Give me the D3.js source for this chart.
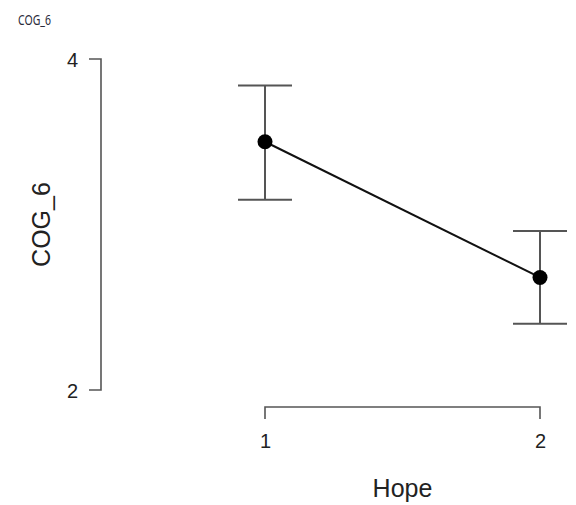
<!DOCTYPE html>
<html>
<head>
<meta charset="utf-8">
<script src="https://cdn.jsdelivr.net/npm/d3@7"></script>
<style>
  body { margin: 0; background: #fff; }
  svg { display: block; }
</style>
</head>
<body>
<svg id="drawing_region"></svg>
<script>
// data
const groups = [1, 2];
const means = [3.50, 2.68];
const upper = [3.84, 2.96];
const lower = [3.15, 2.40];
const yTicks = [2, 4];
const xTitle = "Hope";
const yTitle = "COG_6";
const topTitle = "COG_6";

const width = 576, height = 505;

const svg = d3.select('#drawing_region')
    .attr('width', width)
    .attr('height', height);

const x = d3.scaleLinear().domain([1, 2]).range([265, 540]);
const y = d3.scaleLinear().domain([2, 4]).range([390, 59]);

const data = groups.map((g, i) => ({g: g, m: means[i], hi: upper[i], lo: lower[i]}));

const font = 'Liberation Sans, Arial, sans-serif';

// small title at top left
svg.append('text')
    .attr('x', 18)
    .attr('y', 25)
    .attr('font-family', 'Noto Sans, Open Sans, sans-serif')
    .attr('font-size', 14)
    .attr('textLength', 33)
    .attr('lengthAdjust', 'spacingAndGlyphs')
    .attr('fill', '#2a2a3a')
    .text(topTitle);

// y axis
const yAxis = svg.append('g')
    .attr('transform', 'translate(101,0)')
    .call(d3.axisLeft(y).tickValues(yTicks).tickFormat(d3.format('d')));
yAxis.select('.domain').attr('stroke', '#555').attr('stroke-width', 1.6)
    .attr('d', `M-12,${y(4)}H0V${y(2)}H-12`);
yAxis.selectAll('.tick line').remove();
yAxis.selectAll('.tick text')
    .attr('font-family', font)
    .attr('font-size', 20)
    .attr('fill', '#222')
    .attr('dy', '0.35em')
    .attr('x', -23);

// x axis
const xAxis = svg.append('g')
    .attr('transform', 'translate(0,407)')
    .call(d3.axisBottom(x).tickValues(groups).tickFormat(d3.format('d')));
xAxis.select('.domain').attr('stroke', '#555').attr('stroke-width', 1.6)
    .attr('d', `M${x(1)},12V0H${x(2)}V12`);
xAxis.selectAll('.tick line').remove();
xAxis.selectAll('.tick text')
    .attr('font-family', font)
    .attr('font-size', 20)
    .attr('fill', '#222')
    .attr('y', 27)
    .attr('dy', '0.71em');

// axis titles
svg.append('text')
    .attr('x', (x(1) + x(2)) / 2)
    .attr('y', 497)
    .attr('text-anchor', 'middle')
    .attr('font-family', font)
    .attr('font-size', 25)
    .attr('fill', '#222')
    .text(xTitle);

svg.append('text')
    .attr('transform', `translate(50,${(y(4) + y(2)) / 2}) rotate(-90)`)
    .attr('text-anchor', 'middle')
    .attr('font-family', font)
    .attr('font-size', 25)
    .attr('fill', '#222')
    .text(yTitle);

// error bars
const bars = svg.append('g');
bars.selectAll('line.stem')
    .data(data).enter()
    .append('line')
    .attr('x1', d => x(d.g)).attr('x2', d => x(d.g))
    .attr('y1', d => y(d.hi)).attr('y2', d => y(d.lo))
    .attr('stroke', '#555').attr('stroke-width', 2);
bars.selectAll('line.capHi')
    .data(data).enter()
    .append('line')
    .attr('x1', d => x(d.g) - 27).attr('x2', d => x(d.g) + 27)
    .attr('y1', d => y(d.hi)).attr('y2', d => y(d.hi))
    .attr('stroke', '#555').attr('stroke-width', 2);
bars.selectAll('line.capLo')
    .data(data).enter()
    .append('line')
    .attr('x1', d => x(d.g) - 27).attr('x2', d => x(d.g) + 27)
    .attr('y1', d => y(d.lo)).attr('y2', d => y(d.lo))
    .attr('stroke', '#555').attr('stroke-width', 2);

// connecting line
svg.append('path')
    .datum(data)
    .attr('fill', 'none')
    .attr('stroke', '#111')
    .attr('stroke-width', 2)
    .attr('d', d3.line().x(d => x(d.g)).y(d => y(d.m)));

// points
svg.selectAll('circle')
    .data(data).enter()
    .append('circle')
    .attr('cx', d => x(d.g))
    .attr('cy', d => y(d.m))
    .attr('r', 7.5)
    .attr('fill', '#000');
</script>
</body>
</html>
